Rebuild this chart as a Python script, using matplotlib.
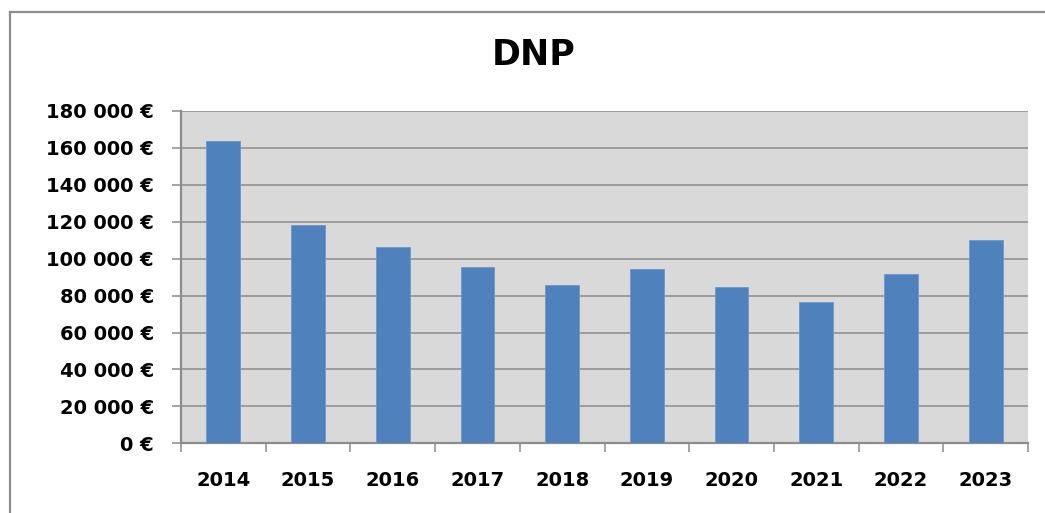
import numpy as np
import matplotlib
matplotlib.use("Agg")
import matplotlib.pyplot as plt
from matplotlib.lines import Line2D
from matplotlib.ticker import FuncFormatter, FixedLocator

# valeurs
annees = ["2014", "2015", "2016", "2017", "2018", "2019", "2020", "2021", "2022", "2023"]
montants = [163800, 118100, 106200, 95500, 85900, 94300, 84700, 76400, 91600, 110000]
y_ticks = [0, 20000, 40000, 60000, 80000, 100000, 120000, 140000, 160000, 180000]

W, H = 1045, 513
fig = plt.figure(figsize=(W / 100, H / 100), dpi=100)

# cadre extérieur gris (coupé à droite et en bas)
fig.add_artist(Line2D([10 / W, 10 / W], [0, 1 - 12 / H], color="#8c8c8c", lw=1.6))
fig.add_artist(Line2D([10 / W, 1], [1 - 12 / H, 1 - 12 / H], color="#8c8c8c", lw=1.6))

ax = fig.add_axes([181 / W, 1 - 443.3 / H, 847 / W, 332.3 / H])
ax.set_facecolor("#d9d9d9")

x = np.arange(len(annees))
ax.bar(x, montants, width=0.40, color="#4f81bd", edgecolor="#6d97cb", linewidth=0.6, zorder=3)

ax.set_xlim(-0.5, len(annees) - 0.5)
ax.set_ylim(0, 180000)

ax.yaxis.set_major_locator(FixedLocator(y_ticks))
ax.yaxis.set_major_formatter(FuncFormatter(lambda v, p: f"{int(v):,} €".replace(",", " ")))
ax.grid(axis="y", color="#8c8c8c", linewidth=1.1, zorder=1)
ax.set_axisbelow(True)

# graduations x aux limites des catégories, étiquettes au centre
ax.xaxis.set_major_locator(FixedLocator(np.arange(len(annees) + 1) - 0.5))
ax.xaxis.set_major_formatter(FuncFormatter(lambda v, p: ""))
ax.xaxis.set_minor_locator(FixedLocator(x))
ax.set_xticklabels(annees, minor=True)
ax.tick_params(axis="x", which="major", length=6.5, width=1.1, color="#8c8c8c", direction="out")
ax.tick_params(axis="x", which="minor", length=0, pad=20, labelsize=14)
ax.tick_params(axis="y", length=6.5, width=1.1, color="#8c8c8c", direction="out", pad=13, labelsize=14)
for lab in ax.get_xticklabels(minor=True) + ax.get_yticklabels():
    lab.set_fontweight("bold")

for s in ["top", "right"]:
    ax.spines[s].set_visible(False)
for s in ["left", "bottom"]:
    ax.spines[s].set_color("#8c8c8c")
    ax.spines[s].set_linewidth(1.6)

fig.text(534 / W, 1 - 55 / H, "DNP", ha="center", va="center", fontsize=25, fontweight="bold")

fig.savefig("out.png", dpi=100)
